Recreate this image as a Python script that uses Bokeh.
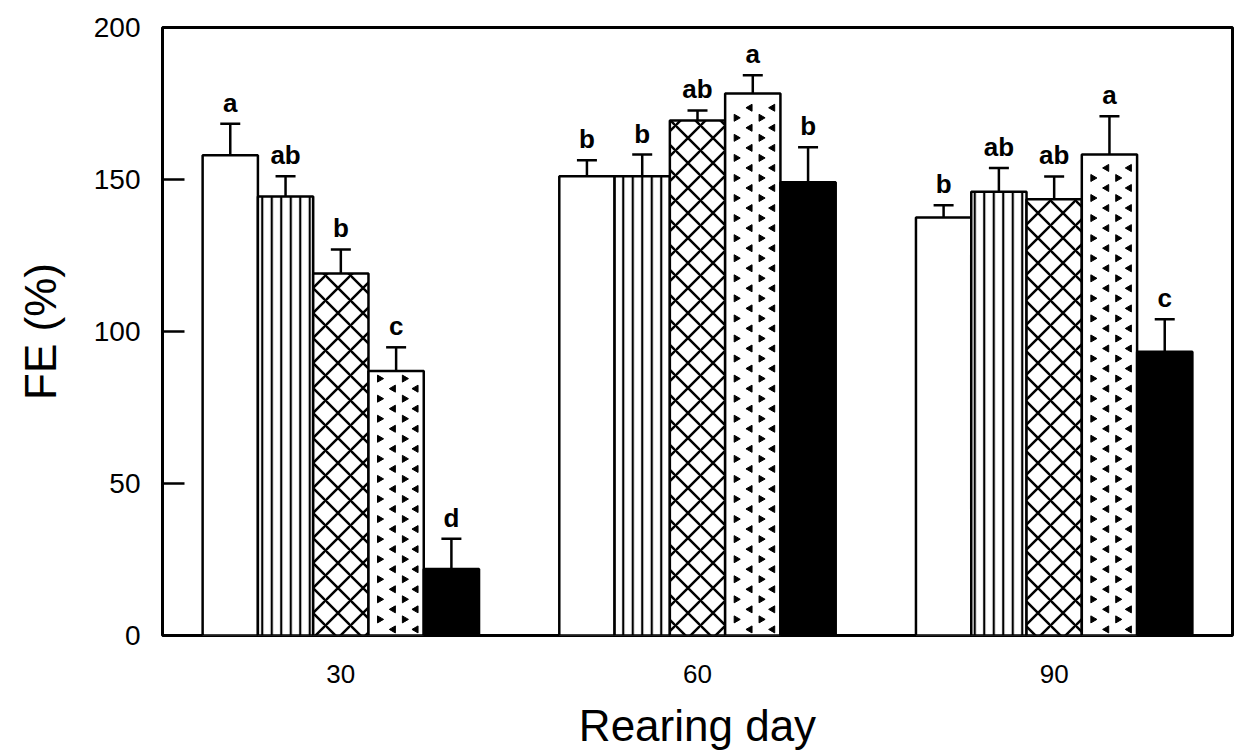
import numpy as np
from bokeh.plotting import figure
from bokeh.models import Range1d, FixedTicker, Whisker, TeeHead, ColumnDataSource
from bokeh.core.properties import value
from bokeh.embed import file_html
from bokeh.resources import INLINE

# ---------------- data ----------------
days = [30, 60, 90]
day_labels = ["30", "60", "90"]

fe_t1 = [158.0, 151.1, 137.5]     # open bars
err_t1 = [10.3, 5.2, 4.0]
let_t1 = ["a", "b", "b"]

fe_t2 = [144.4, 151.1, 146.0]     # vertical lines
err_t2 = [6.7, 7.1, 7.8]
let_t2 = ["ab", "b", "ab"]

fe_t3 = [119.1, 169.4, 143.5]     # cross hatch
err_t3 = [7.9, 3.3, 7.5]
let_t3 = ["b", "ab", "ab"]

fe_t4 = [87.0, 178.3, 158.2]      # chevron dots
err_t4 = [7.8, 6.0, 12.6]
let_t4 = ["c", "a", "a"]

fe_t5 = [21.9, 149.1, 93.3]       # solid black
err_t5 = [9.9, 11.5, 10.7]
let_t5 = ["d", "b", "c"]

y_ticks = [0, 50, 100, 150, 200]

# ---------------- figure ----------------
FONT = "Liberation Sans"
p = figure(width=1245, height=752, x_range=Range1d(15, 105), y_range=Range1d(0, 200),
           output_backend="svg", toolbar_location=None,
           min_border_left=162, min_border_right=13, min_border_top=27, min_border_bottom=115)
p.background_fill_color = "white"
p.border_fill_color = "white"
p.outline_line_color = "black"
p.outline_line_width = 3
p.xgrid.grid_line_color = None
p.ygrid.grid_line_color = None

bar_w = 4.65
offsets = [-2, -1, 0, 1, 2]
series = [
    (fe_t1, err_t1, let_t1, dict(fill_color="white")),
    (fe_t2, err_t2, let_t2, dict(fill_color="white", hatch_pattern="vertical_line",
                                 hatch_scale=9.5, hatch_weight=2.2, hatch_color="black")),
    (fe_t3, err_t3, let_t3, dict(fill_color="white", hatch_pattern="diagonal_cross",
                                 hatch_scale=25, hatch_weight=2.5, hatch_color="black")),
    (fe_t4, err_t4, let_t4, dict(fill_color="white")),
    (fe_t5, err_t5, let_t5, dict(fill_color="black")),
]

for k, (vals, errs, lets, style) in enumerate(series):
    xs = [d + offsets[k] * bar_w for d in days]
    src = ColumnDataSource(dict(x=xs, top=vals, up=[v + e for v, e in zip(vals, errs)], lab=lets))
    w = Whisker(source=src, base="x", lower="top", upper="up", dimension="height",
                line_color="black", line_width=2.5,
                upper_head=TeeHead(size=20, line_color="black", line_width=2.5),
                lower_head=None)
    p.add_layout(w)
    p.vbar(x="x", top="top", bottom=0, width=bar_w, source=src,
           line_color="black", line_width=2.5, **style)
    p.text(x="x", y="up", text="lab", source=src, text_align="center",
           text_baseline="alphabetic", y_offset=-21,
           text_font=value(FONT), text_font_size="26px", text_font_style="bold",
           text_color="black")

# chevron texture of the 4th series, computed from its bars
row_step = 3.3
cx, cy, ca = [], [], []
for d, top in zip(days, fe_t4):
    left = d + offsets[3] * bar_w - bar_w / 2
    yy, r = 2.0, 0
    while yy < top - 1.5:
        if r % 2 == 0:
            fr, ang = (0.45, 0.86), np.pi / 2
        else:
            fr, ang = (0.2, 0.65), -np.pi / 2
        for f in fr:
            cx.append(left + f * bar_w)
            cy.append(yy)
            ca.append(ang)
        yy += row_step
        r += 1
p.scatter(cx, cy, marker="triangle", angle=ca, size=7, fill_color="black", line_color="black")

# axes
p.xaxis.ticker = FixedTicker(ticks=days)
p.xaxis.major_label_overrides = {d: s for d, s in zip(days, day_labels)}
p.xaxis.major_tick_in = 0
p.xaxis.major_tick_out = 0
p.xaxis.minor_tick_line_color = None
p.xaxis.axis_line_color = None
p.xaxis.major_label_text_font = FONT
p.xaxis.major_label_text_font_size = "26px"
p.xaxis.major_label_text_color = "black"
p.xaxis.major_label_standoff = 29
p.xaxis.axis_label = "Rearing day"
p.xaxis.axis_label_text_font = FONT
p.xaxis.axis_label_text_font_size = "44px"
p.xaxis.axis_label_text_font_style = "normal"
p.xaxis.axis_label_text_color = "black"
p.xaxis.axis_label_standoff = 15

p.yaxis.ticker = FixedTicker(ticks=y_ticks)
p.yaxis.major_tick_in = 22
p.yaxis.major_tick_out = 0
p.yaxis.major_tick_line_width = 2.5
p.yaxis.major_tick_line_color = "black"
p.yaxis.minor_tick_line_color = None
p.yaxis.axis_line_color = None
p.yaxis.major_label_text_font = FONT
p.yaxis.major_label_text_font_size = "28px"
p.yaxis.major_label_text_color = "black"
p.yaxis.major_label_standoff = 22
p.yaxis.axis_label = "FE (%)"
p.yaxis.axis_label_text_font = FONT
p.yaxis.axis_label_text_font_size = "44px"
p.yaxis.axis_label_text_font_style = "normal"
p.yaxis.axis_label_text_color = "black"
p.yaxis.axis_label_standoff = 26

open("out.html", "w").write(file_html(p, INLINE))
